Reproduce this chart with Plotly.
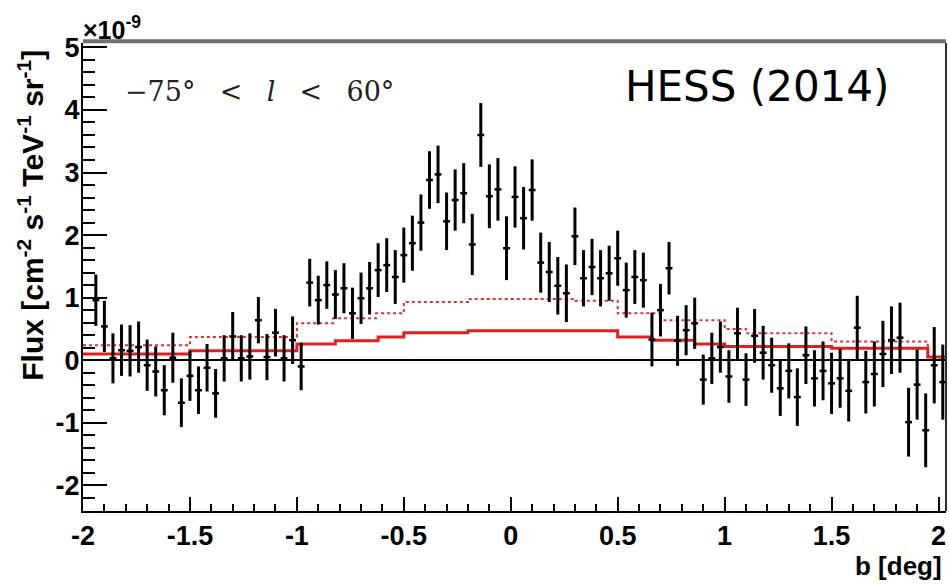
import plotly.graph_objects as go

# ---------------- data ----------------
b_deg = [-1.94, -1.90, -1.86, -1.82, -1.78, -1.74, -1.70, -1.66, -1.62, -1.58,
         -1.54, -1.50, -1.46, -1.42, -1.38, -1.34, -1.30, -1.26, -1.22, -1.18,
         -1.14, -1.10, -1.06, -1.02, -0.98, -0.94, -0.90, -0.86, -0.82, -0.78,
         -0.74, -0.70, -0.66, -0.62, -0.58, -0.54, -0.50, -0.46, -0.42, -0.38,
         -0.34, -0.30, -0.26, -0.22, -0.18, -0.14, -0.10, -0.06, -0.02, 0.02,
         0.06, 0.10, 0.14, 0.18, 0.22, 0.26, 0.30, 0.34, 0.38, 0.42,
         0.46, 0.50, 0.54, 0.58, 0.62, 0.66, 0.70, 0.74, 0.78, 0.82,
         0.86, 0.90, 0.94, 0.98, 1.02, 1.06, 1.10, 1.14, 1.18, 1.22,
         1.26, 1.30, 1.34, 1.38, 1.42, 1.46, 1.50, 1.54, 1.58, 1.62,
         1.66, 1.70, 1.74, 1.78, 1.82, 1.86, 1.90, 1.94, 1.98, 2.02]

flux = [0.96, 0.54, 0.03, 0.16, 0.15, 0.21, -0.08, -0.18, -0.48, 0.04,
        -0.68, -0.25, -0.48, -0.12, -0.53, 0.03, 0.38, 0.03, 0.06, 0.64,
        0.05, 0.44, 0.03, 0.32, -0.10, 1.24, 0.96, 1.20, 1.05, 1.15,
        0.75, 0.99, 1.15, 1.44, 1.52, 1.33, 1.68, 1.87, 2.20, 2.88,
        2.97, 2.22, 2.56, 2.67, 1.85, 3.60, 2.62, 2.73, 1.79, 2.61,
        2.27, 2.72, 1.56, 1.41, 1.19, 1.07, 1.98, 1.31, 1.49, 1.31,
        1.39, 1.63, 1.12, 1.33, 1.28, 0.33, 0.80, 1.47, 0.31, 0.48,
        0.59, -0.31, 0.03, 0.21, -0.26, 0.43, -0.31, 0.39, 0.12, -0.08,
        -0.45, -0.17, -0.59, 0.08, -0.29, -0.17, -0.37, -0.29, -0.49, 0.52,
        -0.35, -0.22, 0.10, 0.32, 0.36, -0.99, -0.39, -1.12, -0.08, -0.35]

flux_err = [0.41, 0.41, 0.40, 0.41, 0.41, 0.41, 0.41, 0.40, 0.40, 0.40,
            0.39, 0.40, 0.38, 0.38, 0.39, 0.37, 0.39, 0.37, 0.37, 0.37,
            0.37, 0.38, 0.37, 0.38, 0.38, 0.38, 0.39, 0.38, 0.39, 0.40,
            0.41, 0.41, 0.42, 0.43, 0.43, 0.43, 0.44, 0.44, 0.45, 0.46,
            0.46, 0.46, 0.49, 0.48, 0.49, 0.51, 0.51, 0.50, 0.51, 0.49,
            0.50, 0.49, 0.48, 0.48, 0.46, 0.46, 0.46, 0.45, 0.45, 0.45,
            0.44, 0.44, 0.44, 0.43, 0.44, 0.43, 0.42, 0.42, 0.40, 0.40,
            0.41, 0.40, 0.41, 0.41, 0.42, 0.41, 0.42, 0.43, 0.43, 0.44,
            0.44, 0.44, 0.46, 0.46, 0.45, 0.47, 0.49, 0.47, 0.49, 0.51,
            0.50, 0.52, 0.53, 0.54, 0.56, 0.55, 0.56, 0.59, 0.61, 0.60]

bin_half = [0.016] * len(b_deg)

# red model curves (step histograms): left edges and values
solid_b = [-2.0, -1.5, -1.0, -0.82, -0.62, -0.5, -0.2, 0.5, 0.66, 0.86, 1.0, 1.5, 1.95, 2.035]
solid_v = [0.10, 0.15, 0.26, 0.31, 0.37, 0.44, 0.47, 0.37, 0.32, 0.26, 0.22, 0.19, 0.05, 0.05]

dotted_b = [-2.0, -1.5, -1.0, -0.83, -0.63, -0.5, -0.2, 0.3, 0.5, 0.7, 1.0, 1.1, 1.5, 1.95, 2.035]
dotted_v = [0.24, 0.37, 0.59, 0.67, 0.75, 0.93, 0.98, 0.95, 0.75, 0.64, 0.50, 0.43, 0.30, 0.05, 0.05]

x_tickvals = [-2, -1.5, -1, -0.5, 0, 0.5, 1, 1.5, 2]
x_ticktext = ["-2", "-1.5", "-1", "-0.5", "0", "0.5", "1", "1.5", "2"]
y_tickvals = [-2, -1, 0, 1, 2, 3, 4, 5]
y_ticktext = ["-2", "-1", "0", "1", "2", "3", "4", "5"]

# ---------------- figure ----------------
fig = go.Figure()

fig.add_trace(go.Scatter(
    x=dotted_b, y=dotted_v, mode="lines", line_shape="hv",
    line=dict(color="#e0302e", width=2, dash="dot"), showlegend=False,
))
fig.add_trace(go.Scatter(
    x=solid_b, y=solid_v, mode="lines", line_shape="hv",
    line=dict(color="#e0201e", width=3), showlegend=False,
))
fig.add_trace(go.Scatter(
    x=b_deg, y=flux, mode="markers",
    marker=dict(color="black", size=3),
    error_y=dict(type="data", array=flux_err, color="black", thickness=3, width=0),
    error_x=dict(type="data", array=bin_half, color="black", thickness=2.5, width=0),
    showlegend=False,
))

tick_font = dict(family="Liberation Sans Narrow, Liberation Sans, Arial", size=27,
                 color="black", weight="bold")

fig.update_layout(
    width=949, height=584,
    margin=dict(l=83, r=3, t=43, b=73),
    paper_bgcolor="white", plot_bgcolor="white",
    xaxis=dict(
        range=[-2.0, 2.035], showgrid=False, zeroline=False,
        showline=True, linecolor="black", linewidth=2,
        ticks="inside", ticklen=14, tickwidth=2, tickcolor="black",
        tickmode="array", tickvals=x_tickvals, ticktext=x_ticktext,
        tickfont=tick_font,
        minor=dict(ticks="inside", ticklen=7, tickwidth=1.5, tickcolor="black",
                   tick0=-2, dtick=0.1, showgrid=False),
    ),
    yaxis=dict(
        range=[-2.41, 5.07], showgrid=False,
        zeroline=True, zerolinecolor="black", zerolinewidth=2,
        showline=True, linecolor="black", linewidth=2,
        ticks="inside", ticklen=24, tickwidth=2, tickcolor="black",
        tickmode="array", tickvals=y_tickvals, ticktext=y_ticktext,
        tickfont=tick_font, ticklabelstandoff=-4,
        minor=dict(ticks="inside", ticklen=12, tickwidth=1.5, tickcolor="black",
                   tick0=0, dtick=0.2, showgrid=False),
    ),
    shapes=[
        dict(type="line", xref="paper", yref="paper", x0=0, x1=1, y0=1.004, y1=1.004,
             line=dict(color="#707070", width=4)),
        dict(type="line", xref="paper", yref="paper", x0=1, x1=1, y0=0, y1=1,
             line=dict(color="#303030", width=2)),
    ],
    annotations=[
        dict(text="×10<sup>-9</sup>", xref="paper", yref="paper", x=-0.002, y=1.0,
             xanchor="left", yanchor="bottom", yshift=-3, showarrow=False,
             font=dict(family="Liberation Sans, Arial", size=25, color="black", weight="bold")),
        dict(text="Flux [cm<sup>-2</sup> s<sup>-1</sup> TeV<sup>-1</sup> sr<sup>-1</sup>]",
             xref="paper", yref="y", x=-0.0606, y=2.32, textangle=-90,
             xanchor="center", yanchor="middle", showarrow=False,
             font=dict(family="Liberation Sans Narrow, Liberation Sans, Arial", size=30,
                       color="black", weight="bold")),
        dict(text="b [deg]", xref="paper", yref="paper", x=0.9977, y=-0.1175,
             xanchor="right", yanchor="middle", showarrow=False,
             font=dict(family="Liberation Sans Narrow, Liberation Sans, Arial", size=26,
                       color="black", weight="bold")),
        dict(text="HESS (2014)", xref="paper", yref="paper", x=0.7815, y=0.908,
             xanchor="center", yanchor="middle", showarrow=False,
             font=dict(family="DejaVu Sans", size=42, color="black")),
        dict(text="\u221275°\u2002\u2009\u2009<\u2002\u2009\u2009<i>l</i>\u2002\u2009\u2009<\u2002\u2009\u200960°",
             xref="paper", yref="paper",
             x=0.046, y=0.897, xanchor="left", yanchor="middle", showarrow=False,
             font=dict(family="DejaVu Serif", size=27, color="#222222")),
    ],
)

fig.write_html("out.html")
